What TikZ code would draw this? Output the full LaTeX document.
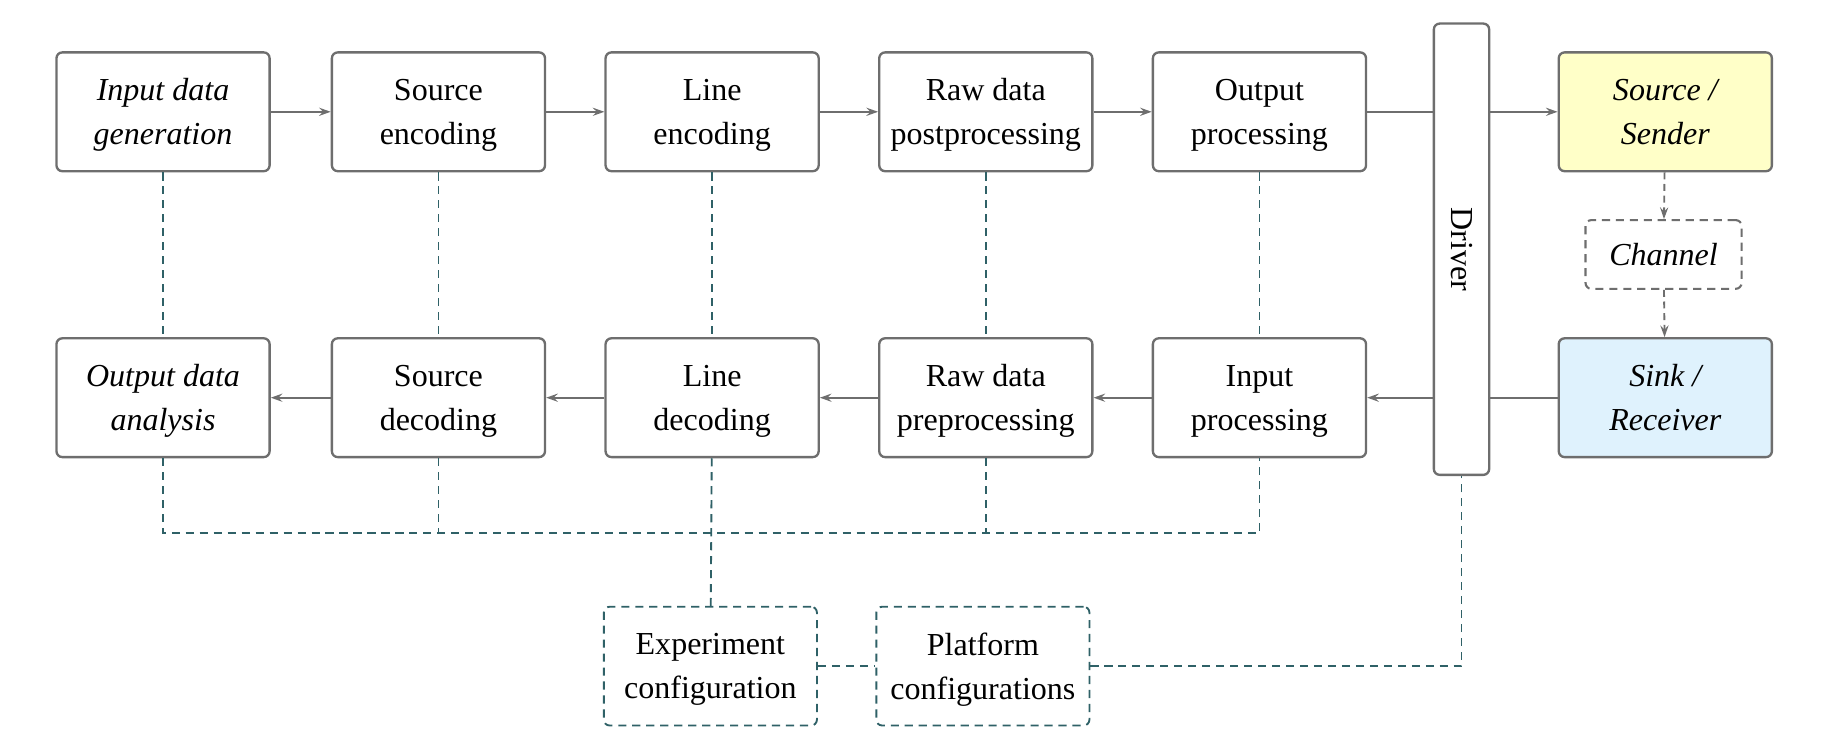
\documentclass[tikz,border=0pt]{standalone}
\usepackage{fontspec}
\setmainfont{Liberation Serif}
\usetikzlibrary{arrows.meta}
\definecolor{bordergray}{HTML}{6E6E6E}
\definecolor{linkteal}{HTML}{2F6167}
\definecolor{sendfill}{HTML}{FFFFC8}
\definecolor{recvfill}{HTML}{DFF2FD}
\newcommand\mainsz{\fontsize{27.5pt}{37.8pt}\selectfont}
\begin{document}
\begin{tikzpicture}[x=1pt,y=-1pt,
  box/.style={draw=bordergray, line width=2pt, rounded corners=5pt, minimum width=183pt,
    minimum height=102pt, align=center, fill=white, inner sep=0pt, font=\mainsz, text depth=0pt},
  conf/.style={box, draw=linkteal, line width=1.6pt, dash pattern=on 7pt off 5pt},
  chanbox/.style={box, minimum width=134pt, minimum height=59pt, dash pattern=on 7pt off 5pt, line width=1.8pt},
  arr/.style={draw=bordergray, line width=1.6pt, -{Stealth[length=10pt,width=7pt,inset=3.5pt]}},
  chan/.style={arr, dash pattern=on 6pt off 4pt},
  link/.style={draw=linkteal, line width=1.6pt, dash pattern=on 7pt off 5pt}]
\useasboundingbox (0,0) rectangle (1568,647.5);
% top row
\node[box] (ig) at (140,96) {\itshape Input data\\\itshape generation};
\node[box] (se) at (376.5,96) {Source\\encoding};
\node[box] (le) at (611.5,96) {Line\\encoding};
\node[box] (rpo) at (846.5,96) {Raw data\\postprocessing};
\node[box] (op) at (1081.5,96) {Output\\processing};
\node[box, fill=sendfill] (snd) at (1430,96) {\itshape Source /\\\itshape Sender};
% bottom row
\node[box] (oa) at (140,341.5) {\itshape Output data\\\itshape analysis};
\node[box] (sd) at (376.5,341.5) {Source\\decoding};
\node[box] (ld) at (611.5,341.5) {Line\\decoding};
\node[box] (rpr) at (846.5,341.5) {Raw data\\preprocessing};
\node[box] (ip) at (1081.5,341.5) {Input\\processing};
\node[box, fill=recvfill] (snk) at (1430,341.5) {\itshape Sink /\\\itshape Receiver};
% channel
\node[chanbox] (ch) at (1428.5,218.5) {\itshape Channel};
% configuration
\node[conf] (exp) at (610,572) {Experiment\\configuration};
\node[conf] (plat) at (844,572) {Platform\\configurations};
\coordinate (hl) at (0,458);
% arrows
\draw[arr] (ig) -- (se);
\draw[arr] (se) -- (le);
\draw[arr] (le) -- (rpo);
\draw[arr] (rpo) -- (op);
\draw[arr] (op) -- (snd);
\draw[arr] (snk) -- (ip);
\draw[arr] (ip) -- (rpr);
\draw[arr] (rpr) -- (ld);
\draw[arr] (ld) -- (sd);
\draw[arr] (sd) -- (oa);
\draw[chan] (snd) -- (ch);
\draw[chan] (ch) -- (snk);
% driver
\node[box, minimum width=47.5pt, minimum height=387.5pt,
  label={[rotate=-90,font=\mainsz]center:Driver}] (drv) at (1255,214) {};
% links
\draw[link] (ig) -- (oa);
\draw[link] (se) -- (sd);
\draw[link] (le) -- (ld);
\draw[link] (rpo) -- (rpr);
\draw[link] (op) -- (ip);
\draw[link] (oa.south) -- (oa.south |- hl) -- (ip.south |- hl) -- (ip.south);
\draw[link] (sd.south) -- (sd.south |- hl);
\draw[link] (rpr.south) -- (rpr.south |- hl);
\draw[link] (ld) -- (exp);
\draw[link] (exp) -- (plat);
\draw[link] (plat.east) -| (drv.south);
\end{tikzpicture}
\end{document}
